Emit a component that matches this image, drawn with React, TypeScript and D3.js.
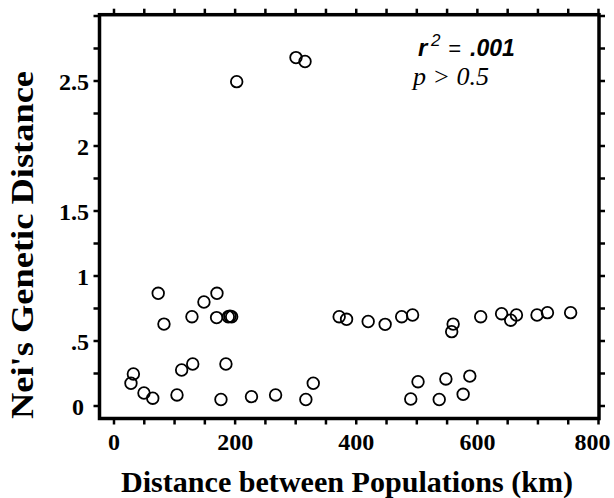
import React from "react";
import * as d3 from "d3";

const distanceKm: number[] = [
  28, 32, 49.5, 64, 73, 82.5, 104, 111.7, 130, 128.7, 148.5, 170, 169.4, 184.8, 176.6,
  188.7, 191.5, 194.3, 227, 266.8, 316.8, 329, 371.8, 384, 419.7, 447.7, 475, 493, 490,
  502, 537, 548, 560, 557.6, 576.5, 587.5, 605.5, 640, 655, 664.5, 698.5, 715.7, 754,
  202.6, 300.5, 315.4,
];
const neiDistance: number[] = [
  0.175, 0.246, 0.1, 0.06, 0.867, 0.63, 0.085, 0.277, 0.323, 0.687, 0.8, 0.867, 0.68, 0.323, 0.05,
  0.687, 0.69, 0.687, 0.072, 0.085, 0.05, 0.175, 0.687, 0.667, 0.65, 0.628, 0.687, 0.7, 0.054,
  0.187, 0.05, 0.208, 0.63, 0.572, 0.09, 0.23, 0.687, 0.71, 0.66, 0.7, 0.7, 0.718, 0.718,
  2.495, 2.68, 2.65,
];

const xTickValues: number[] = [0, 200, 400, 600, 800];
const xTickLabels: string[] = ["0", "200", "400", "600", "800"];
const yTickValues: number[] = [0, 0.5, 1, 1.5, 2, 2.5];
const yTickLabels: string[] = ["0", ".5", "1", "1.5", "2", "2.5"];
const xMinorStep = 50;
const yMinorStep = 0.25;

const W = 614;
const H = 498;
const left = 99.5;
const right = 599;
const top = 14.7;
const bottom = 418.5;

const serif = "'Liberation Serif', 'Times New Roman', Times, serif";
const sans = "'Liberation Sans', Arial, Helvetica, sans-serif";

export default function App() {
  const x = d3.scaleLinear().domain([0, 800]).range([114, 598.5]);
  const y = d3.scaleLinear().domain([0, 2.5]).range([406, 81]);

  const xMinor = d3.range(0, 800 + 0.001, xMinorStep);
  const yMinor = d3.range(0, 3.0 + 0.001, yMinorStep).filter((v) => y(v) > top + 1);

  const tickW = 2.5;
  const tickL = 6;
  const labelStyle: React.CSSProperties = { fontFamily: serif, fontWeight: 700, fontSize: "24px" };

  return (
    <svg width={W} height={H} style={{ position: "absolute", left: 0, top: 0, background: "#fff" }}>
      <rect x={0} y={0} width={W} height={H} fill="#fff" />
      <g stroke="#000" strokeWidth={tickW}>
        {xMinor.map((v, i) => (
          <g key={"xt" + i}>
            <line x1={x(v)} x2={x(v)} y1={bottom} y2={bottom + tickL} />
            <line x1={x(v)} x2={x(v)} y1={top} y2={top - tickL} />
          </g>
        ))}
        {yMinor.map((v, i) => (
          <g key={"yt" + i}>
            <line x1={left} x2={left - tickL} y1={y(v)} y2={y(v)} />
            <line x1={right} x2={right + tickL} y1={y(v)} y2={y(v)} />
          </g>
        ))}
      </g>
      <rect x={left} y={top} width={right - left} height={bottom - top} fill="none" stroke="#000" strokeWidth={3.5} />

      <g fill="none" stroke="#000" strokeWidth={1.8}>
        {distanceKm.map((d, i) => (
          <circle key={i} cx={x(d)} cy={y(neiDistance[i])} r={5.8} />
        ))}
      </g>

      {xTickValues.map((v, i) => (
        <text
          key={"xl" + i}
          x={i === xTickValues.length - 1 ? x(v) - 6 : x(v)}
          y={450}
          textAnchor="middle"
          style={labelStyle}
        >
          {xTickLabels[i]}
        </text>
      ))}
      {yTickValues.map((v, i) => (
        <text key={"yl" + i} x={i === 0 ? 84 : 89} y={y(v) + 8.5} textAnchor="end" style={labelStyle}>
          {yTickLabels[i]}
        </text>
      ))}

      <text
        x={347}
        y={492}
        textAnchor="middle"
        textLength={452}
        lengthAdjust="spacingAndGlyphs"
        style={{ fontFamily: serif, fontWeight: 700, fontSize: "30px" }}
      >
        Distance between Populations (km)
      </text>
      <text
        transform="translate(33,245) rotate(-90)"
        textAnchor="middle"
        textLength={348}
        lengthAdjust="spacingAndGlyphs"
        style={{ fontFamily: serif, fontWeight: 700, fontSize: "32px" }}
      >
        Nei's Genetic Distance
      </text>

      <text x={418} y={56} style={{ fontFamily: sans, fontWeight: 700, fontStyle: "italic", fontSize: "24px" }}>r</text>
      <text x={431} y={46} style={{ fontFamily: sans, fontStyle: "italic", fontSize: "17px" }}>2</text>
      <text x={448} y={56} style={{ fontFamily: sans, fontStyle: "italic", fontSize: "22px" }}>=</text>
      <text x={470} y={56} style={{ fontFamily: sans, fontWeight: 700, fontStyle: "italic", fontSize: "23px" }}>.001</text>
      <text x={413} y={85} style={{ fontFamily: serif, fontStyle: "italic", fontSize: "26px" }}>p &gt; 0.5</text>
    </svg>
  );
}
